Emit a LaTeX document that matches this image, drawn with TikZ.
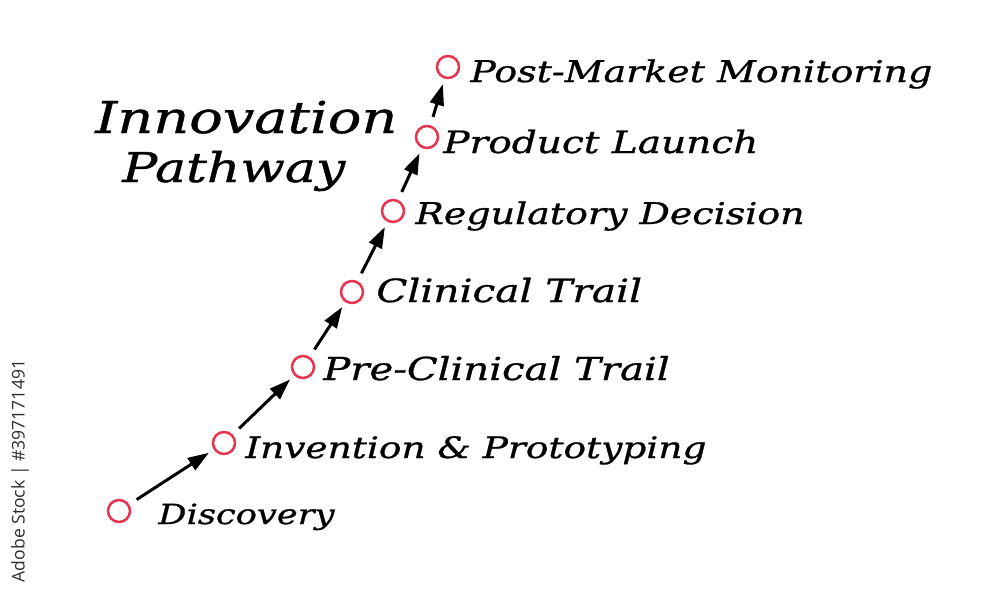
\documentclass[tikz,border=0pt]{standalone}
\usepackage{fontspec}
\usetikzlibrary{arrows.meta}
\newfontfamily\hand[FakeStretch=1.27, FakeBold=0.9]{DejaVu Serif}
\newfontfamily\wmfont{Open Sans}
\definecolor{ringred}{HTML}{E8344F}
\definecolor{wmgray}{HTML}{2E2E2E}
\newcommand{\fsz}[1]{\fontsize{#1}{#1}\selectfont}
\tikzset{
  ring/.style={circle, draw=ringred, line width=0.05cm, minimum size=0.44cm, inner sep=0pt, outer sep=0pt},
  lbl/.style={anchor=base west, inner sep=0pt, font=\hand\itshape\fsz{#1}},
  lbl/.default=17,
  ttl/.style={anchor=base west, inner sep=0pt, font=\hand\itshape\fsz{#1}},
  ttl/.default=24.5,
  flow/.style={-{Triangle[length=0.42cm, width=0.28cm]}, line width=0.06cm, shorten <=0.2cm, shorten >=0.14cm},
}
\begin{document}
\begin{tikzpicture}[x=0.02cm, y=-0.02cm]
\path[use as bounding box, fill=white] (0,0) rectangle (1000,589);
% rings
\node[ring] (c1) at (119,511) {};
\node[ring] (c2) at (224,443) {};
\node[ring] (c3) at (303,367) {};
\node[ring] (c4) at (352,292) {};
\node[ring] (c5) at (393,211) {};
\node[ring] (c6) at (427,137) {};
\node[ring] (c7) at (448,67) {};
% labels
\node[lbl=15.8] (l1) at (158,524) {Discovery};
\node[lbl=16.8] (l2) at (245,458) {Invention \& Prototyping};
\node[lbl=18] (l3) at (323,380) {Pre-Clinical Trail};
\node[lbl=18.2] (l4) at (376,302) {Clinical Trail};
\node[lbl=17] (l5) at (415,224) {Regulatory Decision};
\node[lbl=17.5] (l6) at (443,153) {Product Launch};
\node[lbl=17] (l7) at (470,82) {Post-Market Monitoring};
% title
\node[ttl=25] (t1) at (95,133) {Innovation};
\node[ttl=23.3] (t2) at (122,182) {Pathway};
% arrows
\draw[flow] (c1) -- (c2);
\draw[flow] (c2) -- (c3);
\draw[flow] (c3) -- (c4);
\draw[flow] (c4) -- (c5);
\draw[flow] (c5) -- (c6);
\draw[flow] (c6) -- (c7);
% watermark
\node[rotate=90, text=wmgray, inner sep=0pt, font=\wmfont\fsz{10}] (wm) at (20,471) {Adobe Stock | \#397171491};
\end{tikzpicture}
\end{document}
